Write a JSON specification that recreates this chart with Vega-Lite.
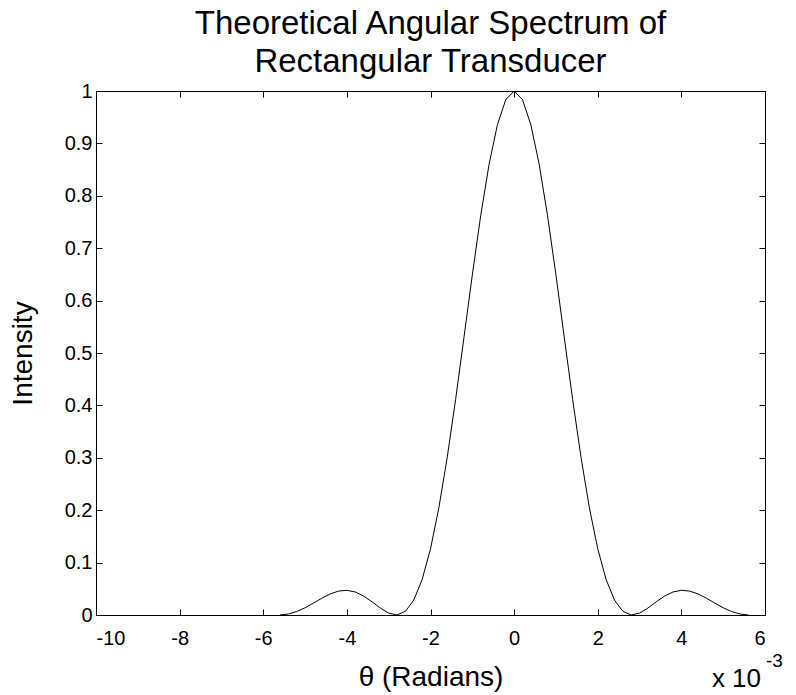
{
  "$schema": "https://vega.github.io/schema/vega-lite/v6.json",
  "autosize": "none",
  "width": 669,
  "height": 524,
  "padding": {"left": 96, "top": 91, "right": 31, "bottom": 80},
  "background": "white",
  "config": {
    "font": "Liberation Sans",
    "view": {"stroke": "black", "strokeWidth": 1},
    "axis": {"grid": false, "domain": false, "tickColor": "black", "labelColor": "black", "titleColor": "black", "labelFont": "Liberation Sans", "titleFont": "Liberation Sans", "labelFontSize": 20, "titleFontWeight": "normal", "titleFontSize": 28, "tickSize": -6, "tickWidth": 1}
  },
  "title": {"text": ["Theoretical Angular Spectrum of", "Rectangular Transducer"], "font": "Liberation Sans", "fontSize": 33, "fontWeight": "normal", "color": "black", "anchor": "middle", "frame": "group", "offset": 2, "lineHeight": 38},
  "data": {"values": [
    {"theta": -5.6, "intensity": 0.00005},
    {"theta": -5.4, "intensity": 0.00193},
    {"theta": -5.2, "intensity": 0.0066},
    {"theta": -5.0, "intensity": 0.01379},
    {"theta": -4.8, "intensity": 0.02267},
    {"theta": -4.6, "intensity": 0.03197},
    {"theta": -4.4, "intensity": 0.04014},
    {"theta": -4.2, "intensity": 0.04563},
    {"theta": -4.0, "intensity": 0.04712},
    {"theta": -3.8, "intensity": 0.04395},
    {"theta": -3.6, "intensity": 0.03626},
    {"theta": -3.4, "intensity": 0.02527},
    {"theta": -3.2, "intensity": 0.01328},
    {"theta": -3.0, "intensity": 0.00355},
    {"theta": -2.8, "intensity": 0.00005},
    {"theta": -2.6, "intensity": 0.00702},
    {"theta": -2.4, "intensity": 0.02845},
    {"theta": -2.2, "intensity": 0.06757},
    {"theta": -2.0, "intensity": 0.12624},
    {"theta": -1.8, "intensity": 0.20462},
    {"theta": -1.6, "intensity": 0.30086},
    {"theta": -1.4, "intensity": 0.41105},
    {"theta": -1.2, "intensity": 0.52948},
    {"theta": -1.0, "intensity": 0.64901},
    {"theta": -0.8, "intensity": 0.76175},
    {"theta": -0.6, "intensity": 0.85968},
    {"theta": -0.4, "intensity": 0.93554},
    {"theta": -0.2, "intensity": 0.98355},
    {"theta": 0.0, "intensity": 1.0},
    {"theta": 0.2, "intensity": 0.98355},
    {"theta": 0.4, "intensity": 0.93554},
    {"theta": 0.6, "intensity": 0.85968},
    {"theta": 0.8, "intensity": 0.76175},
    {"theta": 1.0, "intensity": 0.64901},
    {"theta": 1.2, "intensity": 0.52948},
    {"theta": 1.4, "intensity": 0.41105},
    {"theta": 1.6, "intensity": 0.30086},
    {"theta": 1.8, "intensity": 0.20462},
    {"theta": 2.0, "intensity": 0.12624},
    {"theta": 2.2, "intensity": 0.06757},
    {"theta": 2.4, "intensity": 0.02845},
    {"theta": 2.6, "intensity": 0.00702},
    {"theta": 2.8, "intensity": 0.00005},
    {"theta": 3.0, "intensity": 0.00355},
    {"theta": 3.2, "intensity": 0.01328},
    {"theta": 3.4, "intensity": 0.02527},
    {"theta": 3.6, "intensity": 0.03626},
    {"theta": 3.8, "intensity": 0.04395},
    {"theta": 4.0, "intensity": 0.04712},
    {"theta": 4.2, "intensity": 0.04563},
    {"theta": 4.4, "intensity": 0.04014},
    {"theta": 4.6, "intensity": 0.03197},
    {"theta": 4.8, "intensity": 0.02267},
    {"theta": 5.0, "intensity": 0.01379},
    {"theta": 5.2, "intensity": 0.0066},
    {"theta": 5.4, "intensity": 0.00193},
    {"theta": 5.6, "intensity": 0.00005}
  ]},
  "layer": [
    {
      "mark": {"type": "line", "color": "black", "strokeWidth": 1},
      "encoding": {
        "x": {"field": "theta", "type": "quantitative", "scale": {"domain": [-10, 6], "nice": false, "zero": false},
              "axis": {"orient": "bottom", "values": [-10, -8, -6, -4, -2, 0, 2, 4, 6], "labelExpr": "'' + datum.value", "title": "θ  (Radians)", "labelPadding": 19, "titlePadding": 15}},
        "y": {"field": "intensity", "type": "quantitative", "scale": {"domain": [0, 1], "nice": false},
              "axis": {"orient": "left", "values": [0, 0.1, 0.2, 0.3, 0.4, 0.5, 0.6, 0.7, 0.8, 0.9, 1], "labelExpr": "'' + datum.value", "title": "Intensity", "labelPadding": 10, "titlePadding": 27}}
      }
    },
    {
      "mark": {"type": "line", "strokeOpacity": 0},
      "encoding": {
        "x": {"field": "theta", "type": "quantitative", "axis": {"orient": "top", "values": [-10, -8, -6, -4, -2, 0, 2, 4, 6], "labels": false, "title": null}},
        "y": {"field": "intensity", "type": "quantitative", "axis": {"orient": "right", "values": [0, 0.1, 0.2, 0.3, 0.4, 0.5, 0.6, 0.7, 0.8, 0.9, 1], "labels": false, "title": null}}
      }
    },
    {
      "data": {"values": [{"label": "x 10"}]},
      "mark": {"type": "text", "font": "Liberation Sans", "fontSize": 26, "color": "black", "align": "left", "baseline": "alphabetic", "clip": false},
      "encoding": {"text": {"field": "label"}, "x": {"datum": 4.73, "axis": null}, "y": {"datum": -0.1375, "axis": null}}
    },
    {
      "data": {"values": [{"label": "-3"}]},
      "mark": {"type": "text", "font": "Liberation Sans", "fontSize": 19, "color": "black", "align": "left", "baseline": "alphabetic", "dx": 54, "dy": -20, "clip": false},
      "encoding": {"text": {"field": "label"}, "x": {"datum": 4.73, "axis": null}, "y": {"datum": -0.1375, "axis": null}}
    }
  ],
  "resolve": {"axis": {"x": "independent", "y": "independent"}}
}
